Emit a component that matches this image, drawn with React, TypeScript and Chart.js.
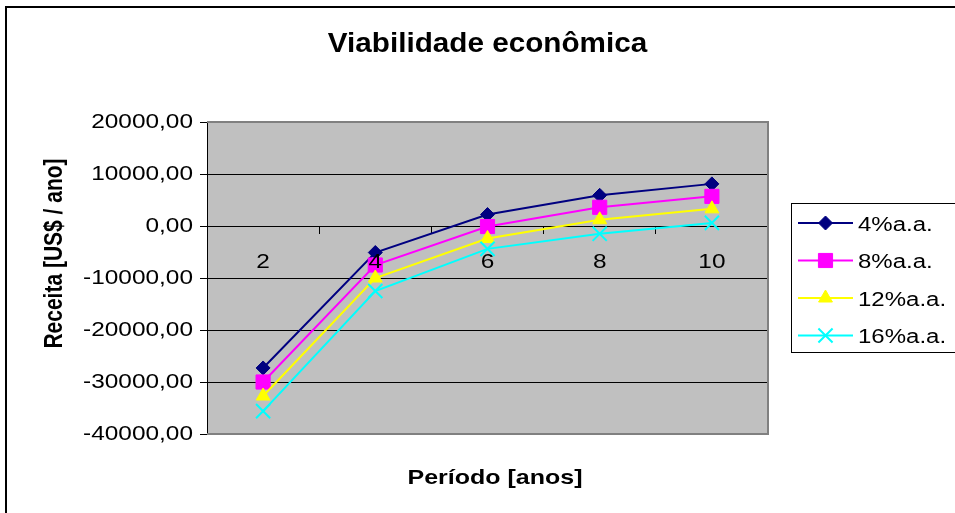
import React, { useEffect, useRef } from 'react';
import { Chart, registerables } from 'chart.js';
import { drawPoint } from 'chart.js/helpers';

Chart.register(...registerables);

// ---- data ----
const CHART_TITLE = 'Viabilidade econômica';
const X_TITLE = 'Período [anos]';
const Y_TITLE = 'Receita [US$ / ano]';
const periods = ['2', '4', '6', '8', '10'];
const seriesNames = ['4%a.a.', '8%a.a.', '12%a.a.', '16%a.a.'];
const rate4 = [-27300, -5100, 2200, 5900, 8100];
const rate8 = [-30000, -7500, -100, 3600, 5700];
const rate12 = [-32700, -10000, -2400, 1200, 3300];
const rate16 = [-35600, -12500, -4400, -1500, 600];
const yMin = -40000;
const yMax = 20000;
const yStep = 10000;

// ---- styles ----
const FONT = '"Liberation Sans", Arial, sans-serif';
const colors = ['#000080', '#FF00FF', '#FFFF00', '#00FFFF'];
const pointStyles = ['rectRot', 'rect', 'triangle', 'crossRot'];
const pointRadii = [7, 10, 8, 10];
const pointBorders = [1, 1, 1, 2];
const TICK_SX = 1.22;

function stretchLabels(scale: any, sx: number) {
  if (!scale || scale.__stretched) return;
  scale.__stretched = true;
  scale.drawLabels = function (chartArea: any) {
    const ctx = this.ctx;
    const items = this.getLabelItems(chartArea);
    for (const item of items) {
      const o = item.options;
      ctx.save();
      ctx.translate(o.translation[0], o.translation[1]);
      if (o.rotation) ctx.rotate(o.rotation);
      ctx.scale(sx, 1);
      ctx.font = item.font.string;
      ctx.fillStyle = o.color;
      ctx.textAlign = o.textAlign;
      ctx.textBaseline = o.textBaseline;
      ctx.fillText(String(item.label), 0, item.textOffset);
      ctx.restore();
    }
  };
}

function stretchedText(
  ctx: CanvasRenderingContext2D,
  text: string,
  x: number,
  y: number,
  font: string,
  sx: number,
  align: CanvasTextAlign
) {
  ctx.save();
  ctx.translate(x, y);
  ctx.scale(sx, 1);
  ctx.font = font;
  ctx.fillStyle = '#000';
  ctx.textAlign = align;
  ctx.textBaseline = 'alphabetic';
  ctx.fillText(text, 0, 0);
  ctx.restore();
}

const decor = {
  id: 'decor',
  afterLayout(chart: any) {
    stretchLabels(chart.scales.x, TICK_SX);
    stretchLabels(chart.scales.y, TICK_SX);
  },
  beforeDraw(chart: any) {
    const { ctx, chartArea: a, width, height } = chart;
    ctx.save();
    ctx.fillStyle = '#fff';
    ctx.fillRect(0, 0, width, height);
    ctx.strokeStyle = '#000';
    ctx.lineWidth = 2;
    ctx.strokeRect(6, 7, width + 20, height + 20);
    ctx.fillStyle = '#C0C0C0';
    ctx.fillRect(a.left, a.top, a.right - a.left, a.bottom - a.top);
    ctx.restore();
  },
  beforeDatasetsDraw(chart: any) {
    const { ctx, chartArea: a } = chart;
    ctx.save();
    ctx.strokeStyle = '#808080';
    ctx.lineWidth = 2;
    ctx.beginPath();
    ctx.moveTo(a.left, a.top);
    ctx.lineTo(a.right, a.top);
    ctx.lineTo(a.right, a.bottom);
    ctx.lineTo(a.left, a.bottom);
    ctx.stroke();
    ctx.restore();
  },
  afterDraw(chart: any) {
    const { ctx, chartArea: a } = chart;
    // chart title
    stretchedText(ctx, CHART_TITLE, (a.left + a.right) / 2, 52, `bold 28px ${FONT}`, 1.06, 'center');
    // x title
    stretchedText(ctx, X_TITLE, 495, 483.5, `bold 21px ${FONT}`, 1.19, 'center');
    // y title (rotated)
    ctx.save();
    ctx.translate(62, 253.5);
    ctx.rotate(-Math.PI / 2);
    ctx.scale(1, 1.2);
    ctx.font = `bold 21px ${FONT}`;
    ctx.fillStyle = '#000';
    ctx.textAlign = 'center';
    ctx.textBaseline = 'alphabetic';
    ctx.fillText(Y_TITLE, 0, 0);
    ctx.restore();

    // legend
    const boxL = 791.5;
    const boxT = 203.5;
    const boxB = 352.5;
    ctx.save();
    ctx.strokeStyle = '#000';
    ctx.lineWidth = 1;
    ctx.strokeRect(boxL, boxT, 200, boxB - boxT);
    ctx.restore();
    const rowY = [223, 260.5, 298, 335.5];
    chart.data.datasets.forEach((ds: any, i: number) => {
      const y = rowY[i];
      ctx.save();
      ctx.strokeStyle = ds.borderColor;
      ctx.lineWidth = 2;
      ctx.beginPath();
      ctx.moveTo(798, y);
      ctx.lineTo(853, y);
      ctx.stroke();
      ctx.fillStyle = ds.backgroundColor;
      ctx.strokeStyle = ds.borderColor;
      ctx.lineWidth = ds.pointBorderWidth;
      drawPoint(ctx, {
        pointStyle: ds.pointStyle,
        rotation: 0,
        radius: ds.pointRadius,
        borderWidth: ds.pointBorderWidth,
      } as any, 825.5, y);
      ctx.restore();
      stretchedText(ctx, ds.label, 858, y + 7.5, `20px ${FONT}`, 1.2, 'left');
    });
  },
};

export default function App() {
  const ref = useRef<HTMLCanvasElement>(null);
  useEffect(() => {
    const canvas = ref.current;
    if (!canvas) return;
    const seriesData = [rate4, rate8, rate12, rate16];
    const chart = new Chart(canvas, {
      type: 'line',
      data: {
        labels: periods,
        datasets: seriesData.map((d, i) => ({
          label: seriesNames[i],
          data: d,
          borderColor: colors[i],
          backgroundColor: colors[i],
          pointBackgroundColor: colors[i],
          pointBorderColor: colors[i],
          pointStyle: pointStyles[i] as any,
          pointRadius: pointRadii[i],
          pointBorderWidth: pointBorders[i],
          borderWidth: 2,
          tension: 0,
          fill: false,
          order: seriesData.length - i,
        })),
      },
      options: {
        animation: false,
        responsive: false,
        maintainAspectRatio: false,
        devicePixelRatio: 1,
        layout: { padding: { left: 0, top: 122, right: 187, bottom: 79 } },
        plugins: {
          legend: { display: false },
          title: { display: false },
          tooltip: { enabled: false },
        },
        scales: {
          x: {
            type: 'category',
            position: { y: 0 } as any,
            offset: true,
            grid: {
              drawOnChartArea: false,
              drawTicks: true,
              tickLength: 7,
              color: '#000',
              offset: true,
            },
            border: { display: true, color: '#000', width: 1 },
            ticks: {
              color: '#000',
              font: { family: FONT, size: 20 },
              padding: 17,
              maxRotation: 0,
              autoSkip: false,
              z: 1,
            },
          },
          y: {
            type: 'linear',
            min: yMin,
            max: yMax,
            ticks: {
              stepSize: yStep,
              color: '#000',
              font: { family: FONT, size: 20 },
              padding: 7,
              callback: (v: any) => Number(v).toFixed(2).replace('.', ','),
            },
            grid: { color: '#000', lineWidth: 1, tickLength: 7, drawTicks: true },
            border: { display: true, color: '#000', width: 1 },
            afterFit: (s: any) => {
              s.width = 207;
            },
          },
        },
      },
      plugins: [decor],
    });
    return () => chart.destroy();
  }, []);
  return (
    <div style={{ position: 'fixed', left: 0, top: 0, width: 955, height: 513, background: '#fff' }}>
      <canvas ref={ref} width={955} height={513} style={{ display: 'block', width: 955, height: 513 }} />
    </div>
  );
}
